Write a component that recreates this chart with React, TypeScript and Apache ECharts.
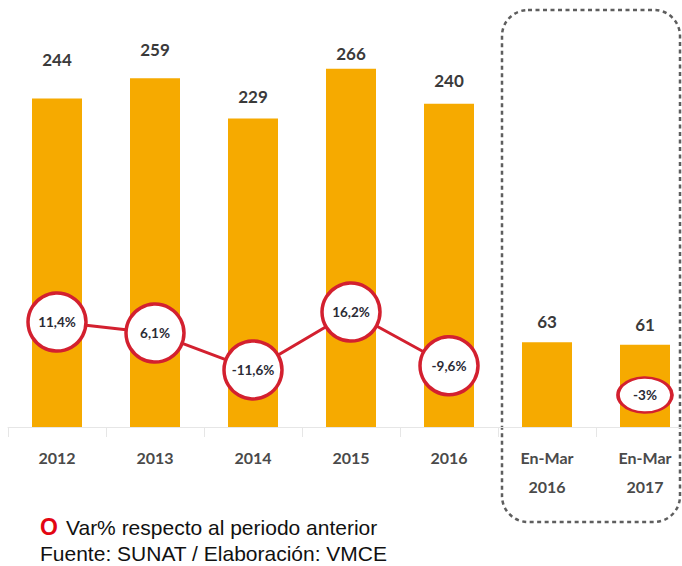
import React, { useEffect, useRef } from "react";
import * as echarts from "echarts";

const categories = ["2012", "2013", "2014", "2015", "2016", "En-Mar\n2016", "En-Mar\n2017"];
const values = [244, 259, 229, 266, 240, 63, 61];
const varAnnual = [11.4, 6.1, -11.6, 16.2, -9.6, null, null];
const varQuarter = [null, null, null, null, null, null, -3];

const fmt = (v: number) => (Number.isInteger(v) ? `${v}%` : `${String(v).replace(".", ",")}%`);

export default function App() {
  const ref = useRef<HTMLDivElement>(null);
  useEffect(() => {
    if (!ref.current) return;
    const chart = echarts.init(ref.current, null, { renderer: "svg" });
    const lift = [18, 8, 2, -5, 3, 0, 0];
    const red = "#d3202f";
    const font = "Lato, 'Open Sans', sans-serif";
    const circleLabel = {
      show: true,
      position: "inside",
      formatter: (p: any) => fmt(p.value),
      color: "#2b2b35",
      fontFamily: font,
      fontWeight: "bold",
      fontSize: 13.5,
    };
    chart.setOption({
      animation: false,
      backgroundColor: "#ffffff",
      grid: { left: 8, width: 686, top: 23, bottom: 139, containLabel: false },
      xAxis: {
        type: "category",
        data: categories,
        axisLine: { show: true, lineStyle: { color: "#e6e6e6", width: 1 } },
        axisTick: { show: true, length: 10, lineStyle: { color: "#e6e6e6" } },
        axisLabel: {
          margin: 16,
          color: "#4a4a4a",
          fontFamily: font,
          fontWeight: "bold",
          fontSize: 16,
          lineHeight: 29,
        },
      },
      yAxis: [
        { type: "value", min: 0, max: 300, show: false, splitLine: { show: false } },
        { type: "value", min: -39, max: 155, show: false, splitLine: { show: false } },
      ],
      series: [
        {
          type: "bar",
          data: values.map((v, i) => ({
            value: v,
            label: { offset: [0, -lift[i]] },
          })),
          barWidth: 50,
          itemStyle: { color: "#f6aa00" },
          label: {
            show: true,
            position: "top",
            distance: 12,
            color: "#3a3a3a",
            fontFamily: font,
            fontWeight: "bold",
            fontSize: 17,
          },
          z: 1,
        },
        {
          type: "line",
          yAxisIndex: 1,
          data: varAnnual,
          symbol: "circle",
          symbolSize: 58,
          lineStyle: { color: red, width: 3 },
          itemStyle: { color: "#ffffff", borderColor: red, borderWidth: 3.5, opacity: 1 },
          label: circleLabel,
          z: 3,
        },
        {
          type: "scatter",
          yAxisIndex: 1,
          data: varQuarter,
          symbol: "circle",
          symbolSize: [54, 35],
          symbolOffset: [0, 43],
          itemStyle: { color: "#ffffff", borderColor: red, borderWidth: 3, opacity: 1 },
          label: circleLabel,
          z: 3,
        },
      ],
      graphic: [
        {
          type: "rect",
          shape: { x: 502, y: 10, width: 178, height: 512, r: 26 },
          style: { fill: "none", stroke: "#5e5e5e", lineWidth: 2.5, lineDash: [4, 3.5] },
          z: 0,
        },
        {
          type: "text",
          x: 40,
          y: 527,
          style: {
            text: "O",
            fill: "#e30613",
            font: "bold 23px 'Liberation Sans', Arial, sans-serif",
            verticalAlign: "middle",
          },
        },
        {
          type: "text",
          x: 66,
          y: 527,
          style: {
            text: "Var% respecto al periodo anterior",
            fill: "#111111",
            font: "21px 'Liberation Sans', Arial, sans-serif",
            verticalAlign: "middle",
          },
        },
        {
          type: "text",
          x: 40,
          y: 553,
          style: {
            text: "Fuente: SUNAT / Elaboración: VMCE",
            fill: "#111111",
            font: "21px 'Liberation Sans', Arial, sans-serif",
            verticalAlign: "middle",
          },
        },
      ],
    });
    return () => chart.dispose();
  }, []);
  return <div ref={ref} style={{ width: 700, height: 566, position: "fixed", left: 0, top: 0 }} />;
}
